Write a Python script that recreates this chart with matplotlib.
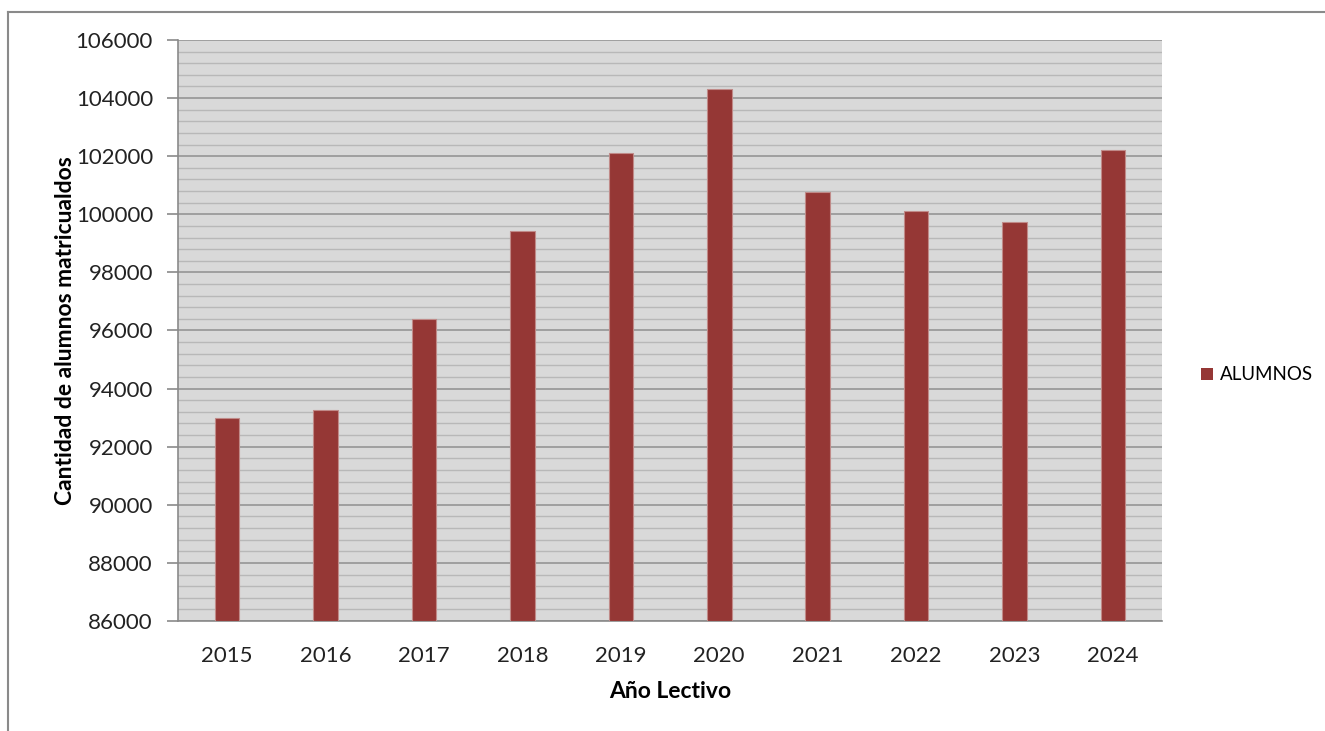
import numpy as np
import matplotlib.pyplot as plt
from matplotlib.lines import Line2D
from matplotlib.patches import Patch
from matplotlib.ticker import MultipleLocator

# data
years = ['2015', '2016', '2017', '2018', '2019', '2020', '2021', '2022', '2023', '2024']
alumnos = [93000, 93260, 96400, 99430, 102110, 104320, 100770, 100110, 99730, 102200]

plt.rcParams['font.family'] = ['Lato', 'DejaVu Sans']

bar_color = '#953735'
bg_color = '#d9d9d9'

f = plt.figure(figsize=(13.25, 7.31), dpi=100)
ax = f.add_axes([178/1325, 1-621/731, (1162-178)/1325, (621-40)/731])

x = np.arange(len(years))
ax.bar(x, np.array(alumnos) - 86000, bottom=86000, width=0.25, color=bar_color,
       edgecolor='#c08a88', linewidth=0.8, zorder=3)

ax.set_facecolor(bg_color)
ax.set_xlim(-0.5, len(years) - 0.5)
ax.set_ylim(86000, 106000)
ax.yaxis.set_major_locator(MultipleLocator(2000))
ax.yaxis.set_minor_locator(MultipleLocator(400))
ax.grid(axis='y', which='major', color='#9a9a9a', linewidth=1.3, zorder=1)
ax.grid(axis='y', which='minor', color='#b8b8b8', linewidth=1.0, zorder=1)
ax.set_axisbelow(True)

ax.set_xticks(x)
ax.set_xticklabels(years)
ax.tick_params(axis='x', length=0, pad=18, labelsize=16, labelcolor='#222222')
ax.tick_params(axis='y', which='major', length=8, width=1.2, color='#8a8a8a',
               labelsize=16, labelcolor='#222222', pad=10)
ax.tick_params(axis='y', which='minor', length=0)

for s in ['top', 'right']:
    ax.spines[s].set_visible(False)
for s in ['left', 'bottom']:
    ax.spines[s].set_color('#8a8a8a')
    ax.spines[s].set_linewidth(1.2)

ax.set_xlabel('Año Lectivo', fontsize=16.5, fontweight='bold', labelpad=11)
ax.set_ylabel('Cantidad de alumnos matricualdos', fontsize=16.5, fontweight='bold', labelpad=0)

leg = f.legend(handles=[Patch(facecolor=bar_color, label='ALUMNOS')],
               loc='center left', bbox_to_anchor=(1193/1325, 1-375/731),
               frameon=False, fontsize=13.5, handlelength=0.65, handleheight=0.65,
               handletextpad=0.4, borderaxespad=0)

# chart area frame
f.add_artist(Line2D([8/1325, 1], [1-12/731, 1-12/731], transform=f.transFigure,
                    color='#8a8a8a', linewidth=1.5))
f.add_artist(Line2D([8/1325, 8/1325], [0, 1-12/731], transform=f.transFigure,
                    color='#8a8a8a', linewidth=1.5))

f.savefig('out.png', dpi=100)
